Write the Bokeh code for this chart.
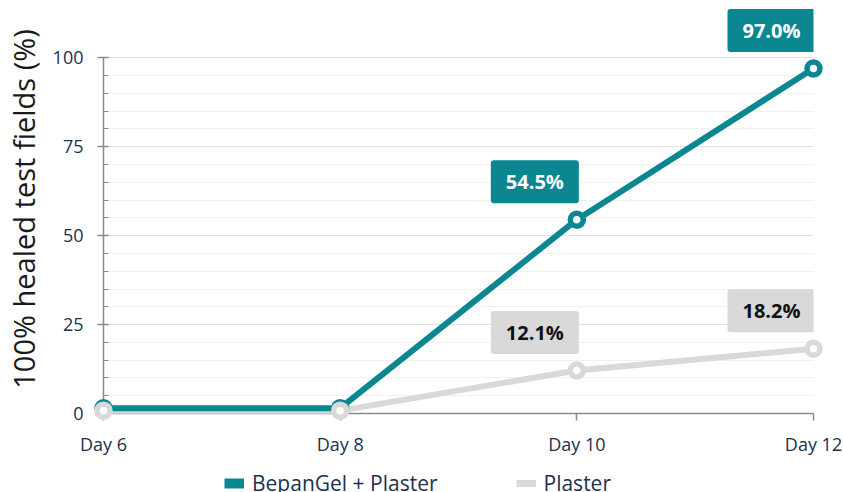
from bokeh.plotting import figure
from bokeh.layouts import column
from bokeh.models import Range1d, FixedTicker, Label, Legend, LegendItem
from bokeh.embed import file_html
from bokeh.resources import INLINE

# Healing data: share of fully healed test fields per visit
days = [6, 8, 10, 12]
day_labels = ["Day 6", "Day 8", "Day 10", "Day 12"]
bepangel = [1.5, 1.5, 54.5, 97.0]
plaster = [0.8, 0.8, 12.1, 18.2]
series_names = ["BepanGel + Plaster", "Plaster"]
labelled_days = [10, 12]

y_ticks = [0, 25, 50, 75, 100]
y_minor_ticks = [0, 5, 10, 15, 20, 25, 30, 35, 40, 45, 50,
                 55, 60, 65, 70, 75, 80, 85, 90, 95, 100]

TEAL = "#0a8790"
GREY = "#d9d9d9"
AXIS_GREY = "#8a8a8a"
NAVY = "#22304f"
FONT = "Open Sans"

p = figure(width=843, height=460, output_backend="svg", toolbar_location=None,
           x_range=Range1d(days[0], days[-1]), y_range=Range1d(0, 115),
           min_border_left=103, min_border_right=30, min_border_top=4,
           min_border_bottom=47)
p.outline_line_color = None
p.background_fill_color = "white"
p.border_fill_color = "white"

# y axis with minor ticks every 5 %
yt = FixedTicker(ticks=y_ticks, minor_ticks=y_minor_ticks)
ya = p.yaxis[0]
ya.ticker = yt
ya.bounds = (y_ticks[0], y_ticks[-1])
ya.axis_line_color = AXIS_GREY
ya.axis_line_width = 1.5
ya.major_tick_line_color = AXIS_GREY
ya.major_tick_line_width = 1.5
ya.minor_tick_line_color = AXIS_GREY
ya.minor_tick_line_width = 1.2
ya.major_tick_in = 5
ya.major_tick_out = 6
ya.minor_tick_in = 5
ya.minor_tick_out = 0
ya.major_label_standoff = 14
ya.major_label_text_font = FONT
ya.major_label_text_font_size = "18px"
ya.major_label_text_color = NAVY
ya.axis_label = "100% healed test fields (%)"
ya.axis_label_text_font = FONT
ya.axis_label_text_font_size = "29px"
ya.axis_label_text_font_style = "normal"
ya.axis_label_text_color = "#1a1a1a"
ya.axis_label_standoff = 7

# x axis: one tick per visit
xa = p.xaxis[0]
xa.ticker = FixedTicker(ticks=days)
xa.major_label_overrides = {d: lab for d, lab in zip(days, day_labels)}
xa.axis_line_color = AXIS_GREY
xa.axis_line_width = 1.5
xa.major_tick_line_color = AXIS_GREY
xa.major_tick_line_width = 1.5
xa.major_tick_in = 0
xa.major_tick_out = 7
xa.minor_tick_line_color = None
xa.major_label_standoff = 11
xa.major_label_text_font = FONT
xa.major_label_text_font_size = "18px"
xa.major_label_text_color = NAVY

p.xgrid.visible = False
p.ygrid.ticker = yt
p.ygrid.grid_line_color = "#e2e2e2"
p.ygrid.grid_line_width = 1
p.ygrid.minor_grid_line_color = "#f1f1f1"
p.ygrid.minor_grid_line_width = 1

# series lines and markers (overlay level so end markers are not cut at the frame)
p.line(days, plaster, line_color=GREY, line_width=6, line_join="round",
       line_cap="round", level="overlay")
p.line(days, bepangel, line_color=TEAL, line_width=6, line_join="round",
       line_cap="round", level="overlay")
p.scatter(days, bepangel, size=13, fill_color="white", line_color=TEAL,
          line_width=5.5, level="overlay")
p.scatter(days, plaster, size=13, fill_color="white", line_color=GREY,
          line_width=5.5, level="overlay")

# value boxes on the later visits
for series, box_color, text_color in ((bepangel, TEAL, "white"), (plaster, GREY, "#111111")):
    for d, v in zip(days, series):
        if d not in labelled_days:
            continue
        p.add_layout(Label(x=d, y=v, x_offset=-42, y_offset=38,
                           text=f"{v:.1f}%", text_align="center", text_baseline="middle",
                           text_font=FONT, text_font_size="20px", text_font_style="bold",
                           text_color=text_color, background_fill_color=box_color,
                           padding=dict(left=15, right=15, top=8, bottom=8),
                           border_radius=3))

# legend strip under the chart (its frame lines up with the chart frame)
lg = figure(width=843, height=32, output_backend="svg", toolbar_location=None,
            x_range=Range1d(0, 1), y_range=Range1d(0, 1),
            x_axis_type=None, y_axis_type=None,
            min_border_left=0, min_border_right=0, min_border_top=0, min_border_bottom=0)
lg.outline_line_color = None
lg.xgrid.visible = False
lg.ygrid.visible = False
sw_teal = lg.line([0], [0], line_color=TEAL, line_width=10)
sw_grey = lg.line([0], [0], line_color=GREY, line_width=7)
legend = Legend(items=[LegendItem(label=series_names[0], renderers=[sw_teal]),
                       LegendItem(label=series_names[1], renderers=[sw_grey])],
                orientation="horizontal", location=(121, -5),
                glyph_width=20, glyph_height=20, label_standoff=8, spacing=78,
                padding=4, margin=0,
                label_text_font=FONT, label_text_font_size="21px",
                label_text_color=NAVY, background_fill_alpha=0,
                border_line_color=None)
lg.add_layout(legend, "center")

layout = column(p, lg, spacing=0)
open("out.html", "w").write(file_html(layout, INLINE))
